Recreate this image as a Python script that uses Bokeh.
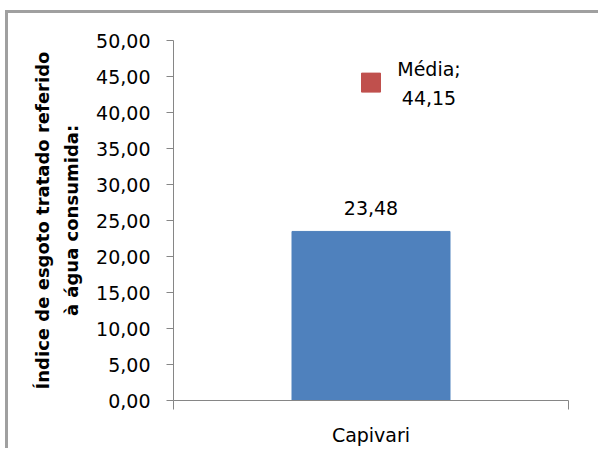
from bokeh.plotting import figure
from bokeh.models import (FactorRange, Range1d, LinearAxis, CategoricalAxis, FixedTicker,
                          CustomJSTickFormatter, ColumnDataSource)
from bokeh.core.properties import value
from bokeh.embed import file_html
from bokeh.resources import INLINE

# ---- data ----
categories = ["Capivari"]
indice_values = [23.48]
media_values = [44.15]
media_labels = ["Média;\n44,15"]
bar_labels = ["23,48"]
y_ticks = [0, 5, 10, 15, 20, 25, 30, 35, 40, 45, 50]
y_title_line1 = "Índice de esgoto tratado referido"
y_title_line2 = "à água consumida:"

FONT = "DejaVu Sans"
AXIS_GRAY = "#868686"

p = figure(x_range=FactorRange(factors=categories, range_padding=0),
           y_range=Range1d(0, 50),
           frame_width=395, frame_height=360,
           min_border_left=165, min_border_top=27, min_border_right=30, min_border_bottom=48,
           output_backend="svg", toolbar_location=None,
           x_axis_location=None, y_axis_location=None)
p.margin = (10, 0, 0, 5)
p.styles = {"border-left": "3px solid #a0a0a0", "border-top": "3px solid #a0a0a0"}
p.outline_line_color = None
p.xgrid.visible = False
p.ygrid.visible = False
p.background_fill_color = "white"
p.border_fill_color = "white"

# y axis (inner: ticks, labels, 2nd title line)
yax = LinearAxis(ticker=FixedTicker(ticks=y_ticks),
                 formatter=CustomJSTickFormatter(code="return tick.toFixed(2).replace('.', ',');"))
yax.axis_line_color = AXIS_GRAY
yax.major_tick_line_color = AXIS_GRAY
yax.major_tick_out = 7
yax.major_tick_in = 0
yax.minor_tick_line_color = None
yax.major_label_text_font = FONT
yax.major_label_text_font_size = "19px"
yax.major_label_text_color = "black"
yax.major_label_standoff = 16
yax.axis_label = y_title_line2
yax.axis_label_text_font = FONT
yax.axis_label_text_font_style = "bold"
yax.axis_label_text_font_size = "18px"
yax.axis_label_text_color = "black"
yax.axis_label_standoff = 11
p.add_layout(yax, "left")

# outer axis carrying the first title line
yax2 = LinearAxis(ticker=FixedTicker(ticks=[]))
yax2.axis_line_color = None
yax2.major_tick_line_color = None
yax2.minor_tick_line_color = None
yax2.major_label_standoff = 0
yax2.major_tick_out = 0
yax2.axis_label = y_title_line1
yax2.axis_label_text_font = FONT
yax2.axis_label_text_font_style = "bold"
yax2.axis_label_text_font_size = "18px"
yax2.axis_label_text_color = "black"
yax2.axis_label_standoff = 6
p.add_layout(yax2, "left")

# x axis: ticks at the category boundaries (synthetic coordinates 0 and 1)
xedge = LinearAxis(ticker=FixedTicker(ticks=[0, 1]),
                   formatter=CustomJSTickFormatter(code="return '';"))
xedge.axis_line_color = AXIS_GRAY
xedge.major_tick_line_color = AXIS_GRAY
xedge.major_tick_out = 9
xedge.major_tick_in = 0
xedge.minor_tick_line_color = None
xedge.major_label_standoff = 0
p.add_layout(xedge, "below")

# category labels
xcat = CategoricalAxis()
xcat.axis_line_color = None
xcat.major_tick_line_color = None
xcat.minor_tick_line_color = None
xcat.major_tick_out = 0
xcat.major_label_text_font = FONT
xcat.major_label_text_font_size = "19px"
xcat.major_label_text_color = "black"
xcat.major_label_standoff = 14
p.add_layout(xcat, "below")

src = ColumnDataSource(dict(cat=categories, val=indice_values, lab=bar_labels,
                            media=media_values, mlab=media_labels))

p.vbar(x="cat", top="val", width=0.4, bottom=0, source=src,
       fill_color="#4F81BD", line_color="#4F81BD")
p.text(x="cat", y="val", text="lab", source=src, text_align="center",
       text_baseline="alphabetic", y_offset=-23,
       text_font=value(FONT), text_font_size="19px", text_color="black")

p.scatter(x="cat", y="media", source=src, marker="square", size=19,
          fill_color="#C0504D", line_color="#C0504D")
p.text(x="cat", y="media", text="mlab", source=src, text_align="center",
       text_baseline="middle", x_offset=58, y_offset=1, text_line_height=1.32,
       text_font=value(FONT), text_font_size="19px", text_color="black")

open("out.html", "w").write(file_html(p, INLINE))
